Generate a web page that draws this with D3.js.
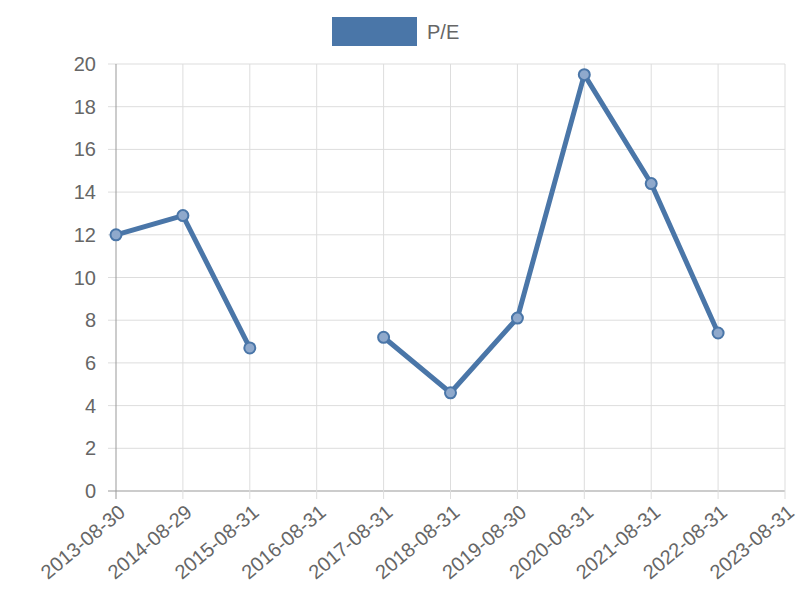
<!DOCTYPE html>
<html><head><meta charset="utf-8">
<script src="https://cdn.jsdelivr.net/npm/d3@7"></script>
<style>body{margin:0;background:#fff}</style></head>
<body><svg id="c" width="800" height="600"></svg>
<script>
const categories=["2013-08-30","2014-08-29","2015-08-31","2016-08-31","2017-08-31","2018-08-31","2019-08-30","2020-08-31","2021-08-31","2022-08-31","2023-08-31"];
const peValues=[12.0,12.9,6.7,null,7.2,4.6,8.1,19.5,14.4,7.4,null];
const yTicks=[0,2,4,6,8,10,12,14,16,18,20];
const seriesName="P/E";

const svg=d3.select("#c");
const L=116,R=785,T=64,B=491;
const x=d3.scalePoint().domain(categories).range([L,R]);
const y=d3.scaleLinear().domain([0,20]).range([B,T]);
const font="Liberation Sans, Arial, sans-serif";
const col="#4a76a8";

// grid
svg.append("g").selectAll("line").data(yTicks).join("line")
 .attr("x1",L-8).attr("x2",R).attr("y1",d=>y(d)).attr("y2",d=>y(d))
 .attr("stroke",d=>d===0?"#999":"#ddd").attr("stroke-width",1);
svg.append("g").selectAll("line").data(categories).join("line")
 .attr("x1",d=>x(d)).attr("x2",d=>x(d)).attr("y1",T).attr("y2",B+8)
 .attr("stroke",(d,i)=>i===0?"#999":"#ddd").attr("stroke-width",1);

// y labels
svg.append("g").selectAll("text").data(yTicks).join("text")
 .attr("x",L-20).attr("y",d=>y(d)).attr("dy","0.35em").attr("text-anchor","end")
 .attr("font-family",font).attr("font-size",20).attr("fill","#666").text(d=>d);
// x labels
svg.append("g").selectAll("text").data(categories).join("text")
 .attr("transform",d=>`translate(${x(d)+6},${B+18}) rotate(-40)`)
 .attr("text-anchor","end").attr("dy","0.35em")
 .attr("font-family",font).attr("font-size",20).attr("fill","#666").text(d=>d);

// line
const pts=categories.map((c,i)=>({c,v:peValues[i]}));
svg.append("path").datum(pts)
 .attr("d",d3.line().defined(d=>d.v!=null).x(d=>x(d.c)).y(d=>y(d.v)))
 .attr("fill","none").attr("stroke",col).attr("stroke-width",5).attr("stroke-linejoin","round");
svg.append("g").selectAll("circle").data(pts.filter(d=>d.v!=null)).join("circle")
 .attr("cx",d=>x(d.c)).attr("cy",d=>y(d.v)).attr("r",5.5)
 .attr("fill","#8fa9cc").attr("stroke",col).attr("stroke-width",2);

// legend
svg.append("rect").attr("x",332).attr("y",17).attr("width",85).attr("height",29).attr("fill",col);
svg.append("text").attr("x",427).attr("y",32).attr("dy","0.35em")
 .attr("font-family",font).attr("font-size",20).attr("fill","#666").text(seriesName);
</script></body></html>
